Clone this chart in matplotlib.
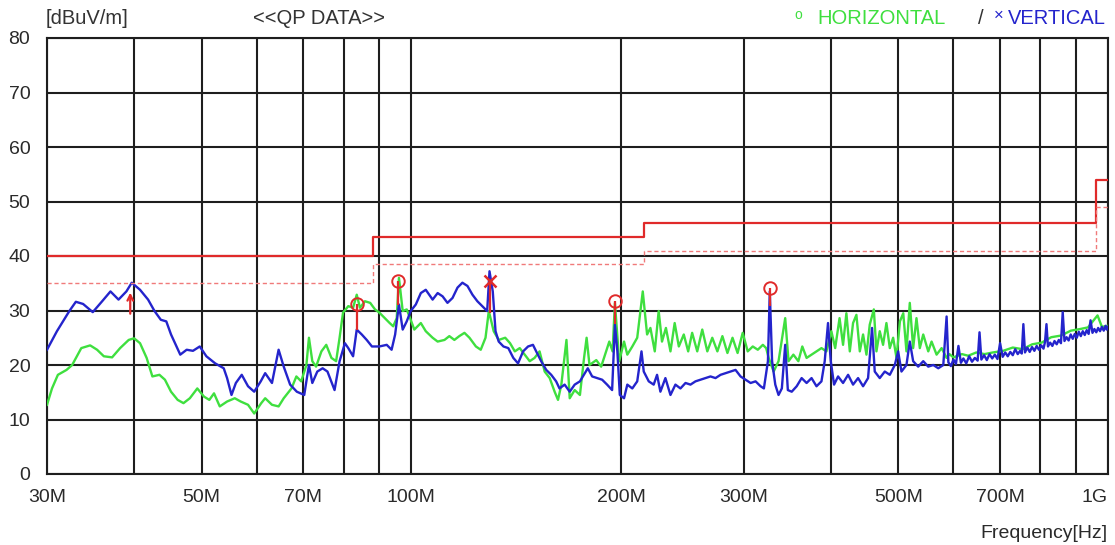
import matplotlib.pyplot as plt

# QP scan, vertical antenna polarisation (MHz, dBuV/m)
freq_v = [30.0, 31.0, 32.3, 33.0, 33.8, 34.9, 36.0, 37.0, 38.0, 39.0, 39.7, 40.8, 41.9, 42.8,
          43.7, 44.5, 45.2, 46.6, 47.6, 48.6, 49.7, 50.8, 52.3, 53.8, 54.4, 55.2, 56.0, 57.1,
          58.3, 59.5, 60.8, 61.7, 63.1, 64.5, 65.6, 67.0, 68.5, 70.2, 71.3, 72.1, 73.3, 74.6,
          75.8, 77.6, 78.9, 80.3, 81.2, 82.5, 83.5, 84.9, 86.3, 87.8, 90.0, 92.2, 93.7, 94.8,
          96.0, 97.2, 98.5, 99.8, 101.5, 103.2, 104.9, 106.1, 107.3, 109.1, 110.9, 112.7, 114.6,
          116.5, 118.4, 120.4, 122.4, 124.4, 127.1, 128.5, 129.5, 130.9, 132.1, 133.5, 135.6,
          137.8, 140.1, 142.3, 144.7, 147.1, 149.5, 151.1, 153.6, 156.2, 158.8, 161.4, 163.2,
          166.0, 168.8, 171.6, 174.6, 177.5, 179.2, 181.8, 184.9, 187.9, 191.0, 194.2, 196.0,
          197.6, 199.2, 202.0, 204.2, 207.6, 211.0, 214.0, 215.6, 219.2, 222.8, 225.3, 227.8,
          231.6, 235.5, 239.4, 243.4, 247.5, 251.6, 255.8, 260.1, 264.4, 268.8, 273.3, 277.9,
          282.5, 287.2, 292.0, 296.9, 301.9, 306.9, 312.0, 317.2, 320.7, 325.0, 327.0, 329.5,
          333.0, 336.6, 340.3, 344.1, 347.1, 351.6, 357.4, 363.3, 369.3, 375.4, 381.6, 387.9,
          392.1, 396.4, 400.0, 404.4, 409.8, 416.6, 423.6, 430.6, 437.8, 445.1, 452.5, 458.5,
          462.6, 470.3, 478.2, 486.2, 494.3, 499.8, 505.3, 513.7, 519.4, 525.2, 534.0, 543.0,
          552.1, 561.3, 570.7, 580.2, 586.6,
          590, 595, 600, 605, 610, 615, 620, 626, 632, 638,
          644, 650, 654, 658, 664, 670, 676, 682, 688, 694,
          700, 706, 712, 718, 724, 730, 736, 742, 748, 752,
          756, 760, 766, 772, 778, 784, 790, 796, 802, 808,
          812, 816, 820, 826, 832, 838, 844, 850, 856, 861,
          866, 872, 878, 884, 890, 896, 902, 908, 914, 920,
          926, 932, 938, 944, 950, 956, 962, 968, 974, 980,
          986, 992, 996, 1000]
level_v = [22.8, 26.2, 29.9, 31.6, 31.2, 29.7, 31.7, 33.5, 32.0, 33.5, 35.1, 33.8, 32.0, 29.9,
           28.3, 28.0, 25.6, 21.9, 22.8, 22.6, 23.4, 21.6, 20.3, 19.4, 17.6, 14.5, 16.7, 18.2,
           16.1, 15.1, 17.0, 18.5, 16.7, 22.8, 19.7, 16.4, 15.1, 14.5, 20.0, 16.7, 18.8, 19.4,
           18.8, 15.4, 20.7, 24.0, 23.1, 21.6, 26.5, 25.6, 24.6, 23.4, 23.4, 23.7, 22.8, 25.6,
           31.1, 26.5, 28.0, 29.9, 31.1, 33.2, 33.8, 32.9, 32.0, 33.2, 32.6, 31.4, 32.3,
           34.2, 35.1, 34.5, 32.9, 31.7, 30.5, 29.9, 37.2, 33.5, 26.2, 24.3, 23.4,
           23.1, 21.3, 20.3, 22.5, 23.4, 23.7, 22.5, 20.7, 19.1, 18.2, 17.0, 15.7,
           16.4, 15.1, 16.4, 17.0, 18.5, 19.4, 17.9, 17.6, 17.3, 16.4, 15.4, 27.4,
           22.5, 14.5, 13.9, 16.4, 15.7, 17.0, 22.5, 18.8, 17.0, 16.4, 18.2, 15.1,
           17.6, 14.5, 16.4, 15.7, 16.7, 16.4, 17.0, 17.3, 17.6, 17.9, 17.6, 18.2,
           18.5, 18.8, 19.1, 17.9, 17.3, 16.7, 17.0, 16.1, 15.7, 20.7, 33.5, 20.7,
           16.4, 14.5, 15.7, 23.7, 15.4, 15.1, 16.1, 17.6, 16.7, 17.6, 16.1, 17.0,
           20.7, 27.7, 20.7, 16.4, 17.9, 16.7, 18.2, 16.4, 17.6, 16.1, 17.6, 26.8,
           18.8, 17.6, 18.8, 18.2, 20.0, 22.5, 18.8, 20.0, 24.3, 20.7, 19.7, 20.7,
           19.7, 20.0, 19.4, 20.0, 28.9,
           20.5, 19.8, 21.0, 20.2, 23.5, 20.4, 21.2, 20.3, 21.6, 20.6,
           21.3, 20.8, 26.0, 21.0, 21.8, 20.9, 22.0, 21.2, 21.9, 21.1,
           24.0, 21.5, 22.3, 21.6, 22.4, 21.8, 22.9, 22.0, 22.6, 22.1,
           27.5, 22.3, 23.2, 22.4, 23.3, 22.6, 23.5, 22.8, 23.6, 23.0,
           24.2, 27.5, 23.4, 24.1, 23.5, 24.4, 23.8, 24.6, 24.0, 29.7,
           24.4, 25.1, 24.5, 25.6, 24.8, 25.7, 25.0, 26.1, 25.3, 26.2,
           25.5, 26.4, 25.7, 28.2, 25.9, 26.6, 26.0, 26.8, 26.2, 27.0,
           26.3, 27.2, 26.5, 27.0]

# QP scan, horizontal antenna polarisation (MHz, dBuV/m)
freq_h = [30.0, 30.5, 31.1, 32.0, 32.6, 33.6, 34.6, 35.4, 36.2, 37.2, 38.2, 39.3, 40.0, 40.8,
          41.7, 42.5, 43.5, 44.3, 45.2, 46.2, 47.1, 48.1, 49.3, 50.4, 51.3, 52.1, 53.1, 54.4,
          55.8, 56.9, 58.3, 59.5, 60.9, 61.7, 63.1, 64.5, 65.6, 67.3, 68.4, 69.5, 70.7, 71.3,
          72.1, 73.0, 74.3, 75.5, 76.8, 78.0, 78.9, 79.8, 81.2, 82.5, 83.5, 84.4, 85.8, 87.3,
          88.7, 90.0, 91.6, 93.1, 94.2, 95.3, 96.0, 97.2, 98.5, 99.6, 101.0, 103.2, 104.9,
          107.3, 109.1, 111.6, 113.4, 115.3, 117.2, 119.2, 121.2, 123.8, 125.8, 127.8, 129.2,
          131.3, 133.5, 136.4, 138.6, 140.8, 143.1, 145.5, 147.9, 150.3, 152.8, 155.4, 158.0,
          160.6, 162.4, 164.2, 167.0, 168.8, 171.6, 174.6, 177.0, 178.5, 180.2, 184.3, 187.3,
          190.4, 192.4, 194.5, 196.0, 198.8, 202.0, 204.2, 207.6, 211.0, 214.9, 218.0, 220.4,
          223.6, 226.5, 229.0, 232.0, 235.5, 238.8, 242.1, 246.1, 249.7, 253.0, 257.3, 261.6,
          266.0, 270.4, 275.0, 279.6, 284.3, 289.1, 294.0, 299.0, 304.0, 309.1, 314.3, 319.6,
          323.1, 325.8, 331.2, 336.6, 344.1, 347.9, 353.5, 359.4, 364.1, 369.3, 375.4, 381.6,
          387.9, 394.3, 400.8, 405.9, 411.8, 416.6, 421.2, 426.0, 430.6, 435.4, 440.3, 445.1,
          450.1, 455.0, 461.2, 465.2, 470.3, 475.5, 480.8, 486.2, 491.6, 497.1, 502.7, 508.3,
          513.7, 519.4, 525.2, 531.0, 536.9, 543.0, 552.1, 558.2, 567.5, 577.0, 586.6, 592.0,
          600.0, 617.0, 630.0, 647.0, 665.0, 683.5, 707.0, 730.0, 754.0, 778.5, 803.0, 829.0,
          856.0, 884.5, 912.0, 936.0, 966.0, 980.0, 1000.0]
level_h = [12.7, 15.7, 18.2, 19.1, 20.0, 23.1, 23.6, 22.8, 21.6, 21.4, 23.1, 24.6, 24.9, 24.0,
           21.3, 17.9, 18.2, 17.3, 15.1, 13.6, 13.0, 13.9, 15.7, 14.2, 13.6, 14.8, 12.4, 13.3,
           13.9, 13.3, 12.7, 11.1, 13.0, 13.9, 12.7, 12.4, 13.9, 15.7, 17.9, 17.0, 20.0, 25.0,
           20.7, 19.7, 22.5, 23.7, 21.3, 20.7, 25.0, 29.6, 30.8, 30.5, 32.9, 30.5, 31.7, 31.4,
           30.2, 29.6, 28.6, 27.7, 27.1, 28.6, 36.0, 29.9, 30.2, 28.6, 26.5, 27.7, 26.2,
           25.0, 24.3, 24.6, 25.3, 24.6, 25.3, 25.9, 25.0, 23.4, 22.8, 25.0, 29.9,
           26.2, 24.6, 25.0, 24.0, 22.5, 23.1, 21.9, 20.7, 21.3, 22.5, 18.8, 17.6,
           15.1, 13.6, 16.4, 24.6, 13.9, 15.4, 14.5, 21.3, 25.0, 20.0, 20.9, 19.7,
           22.5, 24.3, 22.5, 31.4, 20.7, 24.3, 21.9, 23.4, 25.0, 33.5, 25.6, 26.8,
           22.5, 29.9, 24.3, 26.8, 22.5, 27.7, 23.4, 25.6, 22.5, 25.9, 22.5, 26.5,
           22.5, 25.0, 22.5, 25.3, 22.2, 25.0, 22.2, 25.9, 22.5, 23.4, 22.8, 23.7,
           23.1, 21.3, 18.8, 20.7, 28.6, 20.7, 21.9, 20.7, 23.4, 21.3, 21.9, 22.5,
           23.1, 22.5, 26.2, 23.1, 28.6, 23.7, 29.5, 22.5, 27.7, 29.2, 22.5, 25.6,
           21.9, 27.4, 30.2, 22.5, 26.2, 23.7, 27.7, 23.1, 25.0, 21.3, 28.0, 29.5,
           22.5, 31.4, 23.1, 28.6, 23.1, 25.6, 22.5, 24.3, 21.9, 23.1, 21.3, 22.0,
           21.4, 22.0, 21.7, 22.3, 22.0, 22.3, 22.6, 23.2, 22.9, 23.8, 24.1, 25.1,
           25.4, 26.3, 26.6, 26.9, 29.1, 27.0, 27.2]

# FCC class B QP limit and margin line
limit_edges = [30, 88, 216, 960, 1000]
limit_qp = [40, 43.5, 46, 54]
limit_margin = [35, 38.5, 41, 49]

# final measurement markers
peak_h_freq = [83.5, 95.8, 196.2, 327.0]
peak_h_level = [31.2, 35.4, 31.7, 34.2]
peak_h_base = [26.5, 31.0, 27.5, 30.8]
peak_v_freq = [129.5]
peak_v_level = [35.5]
peak_v_base = [29.5]
arrow_freq = 39.5
arrow_level = [28.9, 33.8]

grid_freqs = [30, 40, 50, 60, 70, 80, 90, 100, 200, 300, 400, 500, 600, 700, 800, 900, 1000]
label_freqs = [30, 50, 70, 100, 200, 300, 500, 700, 1000]
label_text = ['30M', '50M', '70M', '100M', '200M', '300M', '500M', '700M', '1G']

plt.rcParams['font.family'] = ['Liberation Sans', 'DejaVu Sans']
W, H = 1115, 545
fig = plt.figure(figsize=(W / 100, H / 100), dpi=100)
ax = fig.add_axes([47 / W, 1 - 474 / H, (1108 - 47) / W, (474 - 38) / H])
ax.set_xscale('log')

green = '#3fdf3f'
blue = '#2424cc'
red = '#e02a2a'

ax.plot(freq_h, level_h, color=green, lw=1.7, zorder=3)
ax.plot(freq_v, level_v, color=blue, lw=1.7, zorder=4)

qp_y = limit_qp + [limit_qp[-1]]
ax.step(limit_edges, qp_y, where='post', color=red, lw=1.6, zorder=5)
ax.step(limit_edges, limit_margin + [limit_margin[-1]], where='post', color='#f07a7a',
        lw=1.0, ls=(0, (3, 2)), zorder=5)

ax.vlines(peak_h_freq, peak_h_base, peak_h_level, color=red, lw=1.6, zorder=6)
ax.plot(peak_h_freq, peak_h_level, 'o', mfc='none', mec=red, ms=9, mew=1.4, zorder=7)
ax.vlines(peak_v_freq, peak_v_base, peak_v_level, color=red, lw=1.6, zorder=6)
ax.plot(peak_v_freq, peak_v_level, 'x', color=red, ms=9, mew=1.8, zorder=7)
ax.annotate('', xy=(arrow_freq, arrow_level[1]), xytext=(arrow_freq, arrow_level[0]),
            arrowprops=dict(arrowstyle='->', color=red, lw=1.6, mutation_scale=10), zorder=7)

ax.set_xlim(30, 1000)
ax.set_ylim(0, 80)
ax.set_xticks(grid_freqs, minor=True)
ax.set_xticks(label_freqs, label_text)
ax.set_yticks(range(0, 81, 10))
ax.grid(True, which='both', axis='x', color='#1e1e1e', lw=1.5)
ax.grid(True, which='major', axis='y', color='#1e1e1e', lw=1.5)
ax.set_axisbelow(True)
ax.tick_params(which='both', length=0, labelsize=14, colors='#2a2a2a')
ax.tick_params(axis='x', pad=11)
ax.tick_params(axis='y', pad=12)
ax.get_xticklabels()[-1].set_ha('right')
for s in ax.spines.values():
    s.set_color('#1e1e1e')
    s.set_linewidth(1.5)

ty = 1 - 19 / H
fig.text(46 / W, ty, '[dBuV/m]', fontsize=14.5, color='#333333', va='center')
fig.text(253 / W, ty, '<<QP DATA>>', fontsize=14.5, color='#333333', va='center')
fig.text(794 / W, 1 - 15 / H, 'o', fontsize=10, color=green, va='center')
fig.text(817 / W, ty, 'HORIZONTAL', fontsize=14.5, color=green, va='center')
fig.text(978 / W, ty, '/', fontsize=14.5, color='#333333', va='center')
fig.text(994 / W, 1 - 15 / H, '×', fontsize=12, color=blue, va='center')
fig.text(1008 / W, ty, 'VERTICAL', fontsize=14.5, color=blue, va='center')
fig.text(1108 / W, 1 - 533 / H, 'Frequency[Hz]', fontsize=14, color='#2a2a2a',
         ha='right', va='center')

fig.savefig('out.png', dpi=100)
